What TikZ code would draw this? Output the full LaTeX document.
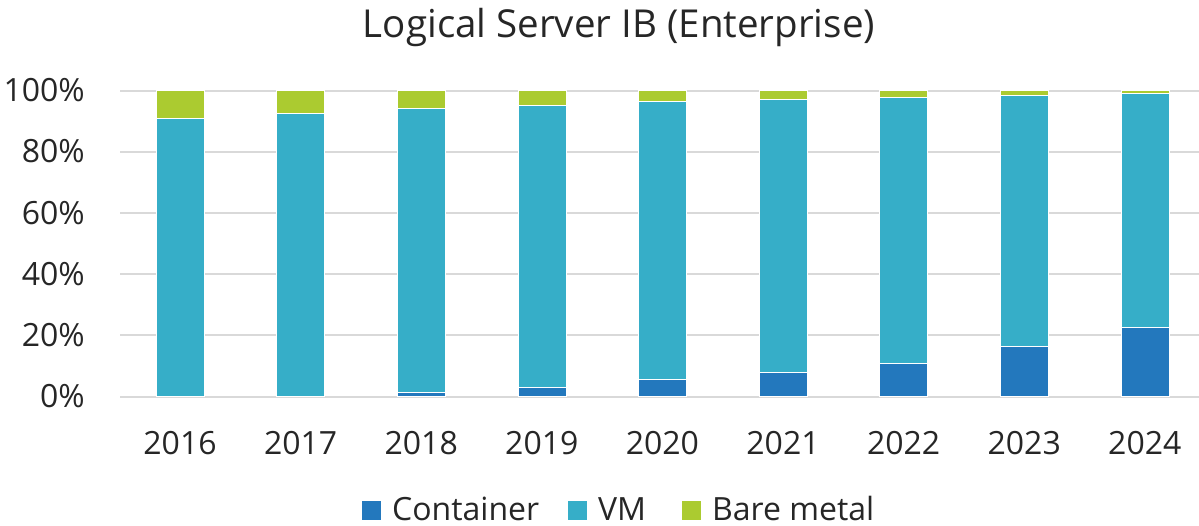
\documentclass[tikz,border=0pt]{standalone}
\usepackage{fontspec}
\setmainfont{Open Sans}
\usepackage{tikz}
\usetikzlibrary{positioning}
\definecolor{containerblue}{RGB}{35,120,189}
\definecolor{vmcyan}{RGB}{54,174,200}
\definecolor{baregreen}{RGB}{171,203,48}
\definecolor{gridgray}{RGB}{217,217,217}
\definecolor{labelgray}{RGB}{38,38,38}

\begin{document}
\begin{tikzpicture}[x=1pt, y=-1pt, text=labelgray,
    font=\fontsize{32}{38}\selectfont,
    txt/.style={inner sep=0pt},
    seg/.style={draw=white!65, line width=0.6pt},
    keybox/.style={minimum size=19pt, inner sep=0pt}]
  \useasboundingbox (0,0) rectangle (1199,525);

  % Title
  \node[txt, anchor=base, font=\fontsize{38.5}{44}\selectfont] (title) at (619,37) {Logical Server IB (Enterprise)};

  % Gridlines and percent labels
  \foreach \p in {0,20,...,100} {
    \draw[gridgray, line width=2pt] (120,{396.6-3.059*\p}) -- (1199,{396.6-3.059*\p});
    \node[txt, anchor=base east] (pct\p) at (85,{396.6-3.059*\p+11}) {\p\%};
  }

  % Stacked bars: year / container / container+VM
  \foreach \yr/\c/\v [count=\i from 0] in {2016/0/91.0, 2017/0/92.6, 2018/1.3/94.1,
      2019/3.0/95.2, 2020/5.6/96.4, 2021/7.9/97.1, 2022/10.9/97.7,
      2023/16.6/98.4, 2024/22.8/99.0} {
    \pgfmathsetmacro\cx{180+120.6*\i}
    \fill[baregreen, seg] ({\cx-24},{396.6-3.059*\v}) rectangle ({\cx+24},{396.6-3.059*100});
    \fill[vmcyan, seg] ({\cx-24},{396.6-3.059*\c}) rectangle ({\cx+24},{396.6-3.059*\v});
    \ifdim\c pt>0pt
      \fill[containerblue, seg] ({\cx-24},396.6) rectangle ({\cx+24},{396.6-3.059*\c});
    \fi
    \node[txt, anchor=base] (year\yr) at (\cx,454) {\yr};
  }

  % Legend
  \node[keybox, fill=containerblue] (keyC) at (371.5,510) {};
  \node[txt, anchor=base west] (labC) at (392,520) {Container};
  \node[keybox, fill=vmcyan] (keyV) at (577.5,510) {};
  \node[txt, anchor=base west] (labV) at (598,520) {VM};
  \node[keybox, fill=baregreen] (keyB) at (691.5,510) {};
  \node[txt, anchor=base west] (labB) at (712,520) {Bare metal};
\end{tikzpicture}
\end{document}
